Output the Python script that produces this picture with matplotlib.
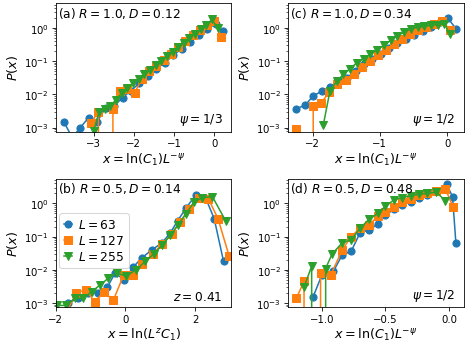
import matplotlib
matplotlib.use("Agg")
import matplotlib.pyplot as plt
from matplotlib.ticker import MultipleLocator

plt.rcParams.update({"font.size": 10})

SIZES = [63, 127, 255]
MARKERS = ["o", "s", "v"]

# panel (a)  R=1.0, D=0.12
a_x63 = [-3.74, -3.53, -3.33, -3.12, -2.91, -2.70, -2.49, -2.28, -2.07, -1.86,
         -1.65, -1.44, -1.23, -1.02, -0.81, -0.60, -0.39, -0.18, 0.03, 0.22]
a_y63 = [1.5e-3, 5e-4, 1.0e-3, 2.0e-3, 1.5e-3, 4e-3, 4.5e-3, 8e-3, 1.3e-2, 2.2e-2,
         3.5e-2, 6e-2, 9e-2, 0.15, 0.24, 0.38, 0.6, 0.95, 1.3, 0.8]
a_x127 = [-3.06, -2.88, -2.70, -2.52, -2.34, -2.16, -1.98, -1.80, -1.62, -1.44,
          -1.26, -1.08, -0.90, -0.72, -0.54, -0.36, -0.18, 0.0, 0.16]
a_y127 = [1.4e-3, 3e-3, 0, 3.5e-3, 1.3e-2, 1.5e-2, 1.1e-2, 3e-2, 5e-2, 7e-2,
          0.11, 0.17, 0.27, 0.4, 0.6, 0.85, 1.2, 1.6, 0.55]
a_x255 = [-3.00, -2.86, -2.72, -2.58, -2.44, -2.30, -2.16, -2.02, -1.88, -1.74,
          -1.60, -1.46, -1.32, -1.18, -1.04, -0.90, -0.76, -0.62, -0.48, -0.34,
          -0.20, -0.06, 0.08]
a_y255 = [8e-4, 3e-3, 3.5e-3, 4.5e-3, 7e-3, 1.1e-2, 1.6e-2, 2.2e-2, 3e-2, 4e-2,
          5.5e-2, 7.5e-2, 0.1, 0.14, 0.19, 0.26, 0.36, 0.5, 0.68, 0.92,
          1.25, 1.8, 1.0]

# panel (b)  R=0.5, D=0.14
b_x63 = [-1.64, -1.36, -1.07, -0.79, -0.52, -0.30, -0.03, 0.22, 0.47, 0.76,
         1.05, 1.29, 1.50, 1.75, 2.02, 2.30, 2.55, 2.82]
b_y63 = [1.0e-3, 1.4e-3, 2.0e-3, 2.0e-3, 3.0e-3, 8e-3, 5e-3, 1.2e-2, 2.3e-2, 4e-2,
         6.5e-2, 0.13, 0.3, 0.75, 1.8, 1.5, 0.35, 0.018]
b_x127 = [-1.70, -1.42, -1.14, -0.88, -0.62, -0.35, -0.05, 0.22, 0.48, 0.78,
          1.06, 1.33, 1.58, 1.82, 2.10, 2.38, 2.66, 2.98]
b_y127 = [5e-4, 2.0e-3, 2.5e-3, 1.1e-3, 2.2e-3, 1.2e-3, 7e-3, 7e-3, 1.5e-2, 3e-2,
          6e-2, 0.12, 0.28, 0.7, 1.5, 1.4, 0.35, 0.026]
b_x255 = [-2.26, -1.98, -1.70, -1.45, -1.21, -0.97, -0.73, -0.49, -0.25, 0.02,
          0.30, 0.57, 0.81, 1.05, 1.29, 1.50, 1.73, 1.97, 2.21, 2.50, 2.88]
b_y255 = [8.5e-4, 8.5e-4, 8.5e-4, 1.4e-3, 1.4e-3, 2.2e-3, 3.5e-3, 5.6e-3, 8e-3, 6.5e-3,
          1.0e-2, 1.8e-2, 3e-2, 5.5e-2, 0.11, 0.22, 0.47, 1.1, 1.5, 1.6, 0.3]

# panel (c)  R=1.0, D=0.34
c_x63 = [-2.24, -2.11, -1.99, -1.86, -1.74, -1.61, -1.49, -1.36, -1.24, -1.11,
         -0.99, -0.86, -0.74, -0.61, -0.49, -0.36, -0.24, -0.11, 0.01, 0.13]
c_y63 = [3.7e-3, 4.7e-3, 9e-3, 1.25e-2, 1.7e-2, 2.5e-2, 3.2e-2, 5e-2, 8e-2, 0.115,
         0.17, 0.25, 0.35, 0.48, 0.6, 0.8, 1.1, 1.5, 2.0, 0.95]
c_x127 = [-2.24, -2.12, -1.99, -1.87, -1.75, -1.63, -1.51, -1.39, -1.27, -1.15,
          -1.03, -0.91, -0.79, -0.67, -0.55, -0.43, -0.31, -0.19, -0.07, 0.05]
c_y127 = [9e-4, 0, 4.5e-3, 5.5e-3, 1.2e-2, 2e-2, 2.8e-2, 4e-2, 6.5e-2, 0.1,
          0.15, 0.22, 0.32, 0.45, 0.65, 0.85, 1.05, 1.3, 1.6, 0.85]
c_x255 = [-1.84, -1.74, -1.64, -1.54, -1.44, -1.34, -1.24, -1.14, -1.04, -0.94,
          -0.84, -0.74, -0.64, -0.54, -0.44, -0.34, -0.24, -0.14, -0.04, 0.04]
c_y255 = [1.2e-3, 1.3e-2, 2.5e-2, 4e-2, 6e-2, 9e-2, 0.12, 0.16, 0.22, 0.3,
          0.42, 0.58, 0.75, 0.95, 1.05, 1.12, 1.2, 1.25, 1.35, 0.66]

# panel (d)  R=0.5, D=0.48
d_x63 = [-1.07, -1.00, -0.91, -0.84, -0.77, -0.70, -0.63, -0.56, -0.50, -0.43,
         -0.37, -0.30, -0.24, -0.17, -0.10, -0.02, 0.027, 0.053]
d_y63 = [1.5e-3, 7e-3, 9e-3, 2.8e-2, 3.6e-2, 0.13, 0.16, 0.24, 0.46, 0.66,
         0.93, 1.1, 1.5, 1.8, 2.4, 3.8, 1.6, 0.065]
d_x127 = [-1.20, -1.14, -1.08, -1.01, -0.93, -0.84, -0.77, -0.70, -0.63, -0.56,
          -0.50, -0.43, -0.37, -0.30, -0.24, -0.17, -0.10, -0.03, 0.03]
d_y127 = [1.4e-3, 4.5e-3, 0, 8e-3, 7e-3, 4e-2, 0.1, 0.18, 0.22, 0.42,
          0.55, 0.8, 1.1, 1.4, 1.8, 2.1, 2.4, 2.8, 0.8]
d_x255 = [-1.14, -1.08, -1.03, -0.97, -0.92, -0.84, -0.77, -0.70, -0.63, -0.56,
          -0.50, -0.43, -0.37, -0.30, -0.24, -0.17, -0.10, -0.03]
d_y255 = [3e-3, 1.3e-2, 0, 1.1e-2, 3e-2, 6.5e-2, 8e-2, 0.18, 0.33, 0.5,
          0.83, 1.3, 1.5, 1.7, 1.9, 2.0, 2.2, 1.2]

XLAB_PSI = r"$x=\ln(C_1)L^{-\psi}$"
panels = [
    ((0, 0), [(a_x63, a_y63), (a_x127, a_y127), (a_x255, a_y255)],
     r"(a) $R=1.0, D=0.12$", r"$\psi=1/3$", XLAB_PSI),
    ((1, 0), [(b_x63, b_y63), (b_x127, b_y127), (b_x255, b_y255)],
     r"(b) $R=0.5, D=0.14$", r"$z=0.41$", r"$x=\ln(L^zC_1)$"),
    ((0, 1), [(c_x63, c_y63), (c_x127, c_y127), (c_x255, c_y255)],
     r"(c) $R=1.0, D=0.34$", r"$\psi=1/2$", XLAB_PSI),
    ((1, 1), [(d_x63, d_y63), (d_x127, d_y127), (d_x255, d_y255)],
     r"(d) $R=0.5, D=0.48$", r"$\psi=1/2$", XLAB_PSI),
]

fig, axes = plt.subplots(2, 2, figsize=(6.4, 4.8))
fig.subplots_adjust(left=0.119, right=0.989, top=0.989, bottom=0.125,
                    wspace=0.326, hspace=0.367)

for (r, c), series, title, note, xlab in panels:
    ax = axes[r, c]
    for (xs, ys), L, m in zip(series, SIZES, MARKERS):
        ax.plot(xs, ys, marker=m, markersize=7, label=f"$L={L}$")
    ax.set_yscale("log")
    ax.set_ylim(7.6e-4, 5.6)
    ax.set_ylabel("$P(x)$", fontsize=12.5)
    ax.set_xlabel(xlab, fontsize=12.5, labelpad=2)
    ax.text(0.01, 0.985, title, transform=ax.transAxes, ha="left", va="top",
            fontsize=12)
    ax.text(0.95, 0.03, note, transform=ax.transAxes, ha="right", va="bottom",
            fontsize=12)

axes[0, 0].xaxis.set_major_locator(MultipleLocator(1))
axes[1, 0].set_xlim(-2.0, 3.04)

axes[1, 0].legend(loc="upper left", bbox_to_anchor=(0.02, 0.73),
                  borderaxespad=0, handlelength=0.6, handletextpad=0.5,
                  labelspacing=0.25, fontsize=12)

fig.savefig("out.png", dpi=469 / 6.4)
